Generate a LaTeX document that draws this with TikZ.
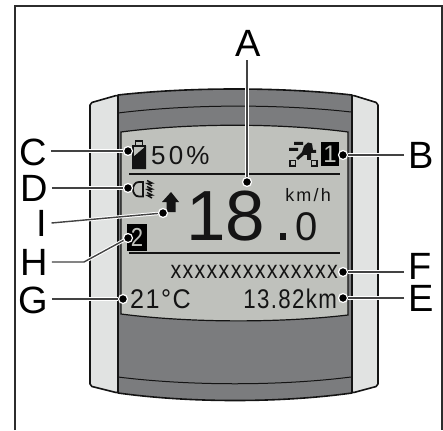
\documentclass[tikz,border=0pt]{standalone}
\usepackage{fontspec}
\setmainfont{Liberation Sans}
\newfontfamily\lcdfont[LetterSpace=6]{Liberation Sans}
\newfontfamily\lcdwide[LetterSpace=12]{Liberation Sans}
\usepackage{tikz}
\newcommand{\fsize}[1]{\fontsize{#1}{#1}\selectfont}
\definecolor{lcdgrey}{HTML}{BFC1BC}
\definecolor{housing}{HTML}{7B7C7E}
\definecolor{sidepanel}{HTML}{E1E3E2}
\definecolor{inkdark}{HTML}{141414}

\begin{document}
\begin{tikzpicture}[
    x=1pt, y=-1pt,
    outline/.style={draw=inkdark, line width=1.6pt, line join=round},
    letter/.style={font=\fsize{38}, inner sep=4pt, text=black},
    lcd/.style={font=\lcdfont\fsize{#1}, inner sep=0pt, text=inkdark},
    lcdspaced/.style={font=\lcdwide\fsize{#1}, inner sep=0pt, text=inkdark},
    digit/.style={font=\fsize{#1}, inner sep=0pt, text=inkdark},
    callout/.style={circle, fill=black, draw=white, line width=1.2pt, minimum size=9pt, inner sep=0pt},
    leader/.style={draw=inkdark!80, line width=1.4pt, preaction={draw=white, line width=3.4pt}}
]
\useasboundingbox (0,0) rectangle (443,430);
% Frame
\draw[inkdark!90, line width=1.5pt] (15,430) -- (15,6) -- (442,6) -- (442,430);

% Housing
\draw[outline, fill=sidepanel, rounded corners=2pt] (118,95) -- (90,103) -- (90,386) -- (118,393) -- cycle;
\draw[outline, fill=sidepanel, rounded corners=2pt] (352,95) -- (378,103) -- (378,386) -- (352,393) -- cycle;
\draw[outline, fill=housing] (118,95) .. controls (190,87) and (280,87) .. (352,95) -- (352,393)
    .. controls (280,403) and (190,403) .. (118,393) -- cycle;
\draw[inkdark, line width=1pt] (118,113) .. controls (190,104) and (280,104) .. (351,112);
\draw[inkdark, line width=1pt] (118,377) .. controls (190,386) and (280,386) .. (351,377);
% Display
\draw[inkdark, line width=1.2pt, fill=lcdgrey] (121,132) .. controls (190,123) and (280,123) .. (348,132)
    -- (348,315) .. controls (280,323) and (190,323) .. (121,314) -- cycle;
\draw[inkdark, line width=1.2pt] (129,174) -- (340,174);
\draw[inkdark, line width=1.2pt] (129,253) -- (340,253);

% Battery icon
\draw[inkdark, line width=1.6pt] (135.5,146) -- (135.5,141) -- (142.5,141) -- (142.5,146);
\draw[inkdark, line width=1.6pt] (132.8,146) rectangle (145.2,168.5);
\fill[inkdark] (132,158) -- (146,146) -- (146,169) -- (132,169) -- cycle;
% Headlight icon
\draw[inkdark, line width=1.8pt] (143,182) -- (143,196.5) -- (139,196.5) .. controls (131,196.5) and (131,182) .. (139,182) -- cycle;
\foreach \rayy in {180.5,186.5,192.5}
    \draw[inkdark, line width=1.5pt] (147,\rayy) -- (152,\rayy+2.5) -- (147.5,\rayy+3) -- (152,\rayy+5.5);
% Direction arrow
\fill[inkdark] (171,192) -- (179,202) -- (175.5,202) -- (175.5,212) -- (166.5,212) -- (166.5,202) -- (162,202) -- cycle;
% Assist icon
\fill[inkdark] (294,142) rectangle (303,145) (289,148) rectangle (298,151);
\fill[inkdark] (304,146) -- (308,142.5) -- (312,143.5) -- (313,150) -- (316,150) -- (316,153) -- (311,153) -- (311,160)
    -- (307,160) -- (307,155) -- (304,155) -- (298,160) -- (296,158) -- (302,152) -- cycle;
\draw[inkdark, line width=1.8pt] (290,160.5) rectangle (295.5,166) (311.5,160.5) rectangle (317,166);
% Inverted boxes
\node[fill=black, minimum width=18pt, minimum height=24pt, inner sep=0pt, text=lcdgrey, font=\fsize{24}] (boxone) at (330,154) {1};
\node[fill=black, minimum width=20pt, minimum height=27pt, inner sep=0pt, text=lcdgrey, font=\fsize{26}] (boxtwo) at (137,237.5) {\scalebox{.85}[1]{2}};

% Readings
\node[lcdspaced=26, anchor=base west] (charge) at (151,164.5) {50\%};
\node[digit=71, anchor=base] (speed) at (226,240) {18};
\fill[inkdark] (280,233) rectangle (286,240);
\node[digit=40, anchor=base] (decimal) at (307,240) {0};
\node[lcdspaced=18, anchor=base east] (unit) at (331,201) {km/h};
\node[lcd=25, anchor=base east, xscale=.86, transform shape] (message) at (338,278) {xxxxxxxxxxxxxx};
\node[lcd=27, anchor=base west, xscale=.93, transform shape] (temp) at (130,308) {21°C};
\node[lcd=27, anchor=base east, xscale=.825, transform shape] (range) at (337,308) {13.82km};

% Callouts
\node[callout] (dotA) at (247,182) {};
\node[callout] (dotB) at (343,155) {};
\node[callout] (dotC) at (128,151) {};
\node[callout] (dotD) at (128,188) {};
\node[callout] (dotE) at (343,298) {};
\node[callout] (dotF) at (343,272) {};
\node[callout] (dotG) at (123,299) {};
\node[callout] (dotH) at (128,238) {};
\node[callout] (dotI) at (163,213) {};
\node[letter] (A) at (248.5,43) {A};
\node[letter] (B) at (421,155) {B};
\node[letter] (C) at (33,152) {C};
\node[letter] (D) at (34,188.5) {D};
\node[letter] (E) at (421,298.5) {E};
\node[letter] (F) at (420,266.5) {F};
\node[letter] (G) at (33,300) {G};
\node[letter] (H) at (34,262) {H};
\node[letter] (I) at (42,223) {I};
\coordinate (elbowH) at (84,262);

% Leaders
\draw[leader] (dotA |- A.south) -- (dotA);
\draw[leader] (B.west |- dotB) -- (dotB);
\draw[leader] (C.east |- dotC) -- (dotC);
\draw[leader] (D.east |- dotD) -- (dotD);
\draw[leader] (E.west |- dotE) -- (dotE);
\draw[leader] (F.west |- dotF) -- (dotF);
\draw[leader] (G.east |- dotG) -- (dotG);
\draw[leader] (H.east |- elbowH) -- (elbowH) -- (dotH);
\draw[leader] (I.east) -- (dotI);
\end{tikzpicture}
\end{document}
